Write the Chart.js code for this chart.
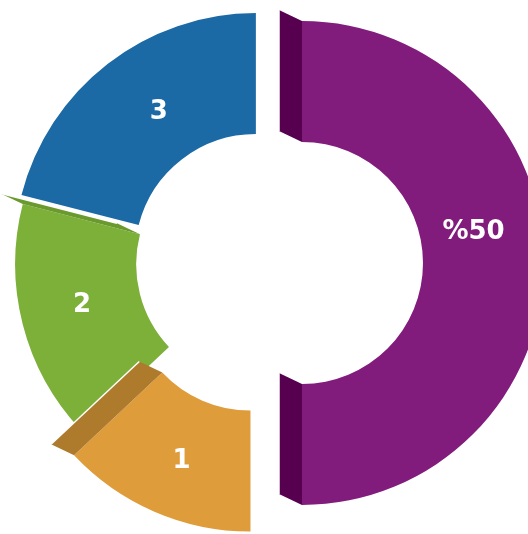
<!DOCTYPE html>
<html><head><meta charset="utf-8">
<script src="https://cdn.jsdelivr.net/npm/chart.js@4.4.0/dist/chart.umd.min.js"></script>
<style>html,body{margin:0;padding:0;background:#fff;overflow:hidden}#wrap{position:relative;width:528px;height:534px}</style>
</head><body><div id="wrap"><canvas id="c"></canvas></div>
<script>
// data
const labels = ['%50', '1', '2', '3'];
const values = [50, 13, 16, 21];

// styles
const colors = ['#821C7C', '#DF9C3A', '#7DB039', '#1B69A5'];
const sideColors = ['#56004F', '#AE7A2C', '#6A9A2E', '#12497A'];
const explode = [40, 29, 5, 10];
const labelShiftDeg = [-10, -1.5, 1.3, 3.5];
const labelRadiusFactor = [0.96, 1.02, 0.99, 0.95];
const depth = { x: -23, y: -11 };

const pieStyle = {
  id: 'pieStyle',
  afterDatasetsUpdate(chart) {
    const meta = chart.getDatasetMeta(0);
    meta.data.forEach((arc, i) => {
      const mid = (arc.startAngle + arc.endAngle) / 2;
      arc.x += Math.cos(mid) * explode[i];
      arc.y += Math.sin(mid) * explode[i];
    });
  },
  afterDatasetsDraw(chart) {
    const ctx = chart.ctx;
    const meta = chart.getDatasetMeta(0);
    meta.data.forEach((arc, i) => {
      [arc.startAngle, arc.endAngle].forEach((a, k) => {
        const ix = k === 0 ? -Math.sin(a) : Math.sin(a);
        const iy = k === 0 ? Math.cos(a) : -Math.cos(a);
        if (depth.x * ix + depth.y * iy >= 0) return;
        const c = Math.cos(a), s = Math.sin(a);
        const p1 = { x: arc.x + c * arc.innerRadius, y: arc.y + s * arc.innerRadius };
        const p2 = { x: arc.x + c * arc.outerRadius, y: arc.y + s * arc.outerRadius };
        ctx.save();
        ctx.beginPath();
        ctx.moveTo(p1.x, p1.y);
        ctx.lineTo(p2.x, p2.y);
        ctx.lineTo(p2.x + depth.x, p2.y + depth.y);
        ctx.lineTo(p1.x + depth.x, p1.y + depth.y);
        ctx.closePath();
        ctx.fillStyle = sideColors[i];
        ctx.fill();
        ctx.beginPath();
        ctx.moveTo(p2.x + depth.x, p2.y + depth.y);
        ctx.lineTo(p1.x + depth.x, p1.y + depth.y);
        ctx.strokeStyle = '#ffffff';
        ctx.lineWidth = 1.5;
        ctx.stroke();
        ctx.restore();
      });
    });
    meta.data.forEach((arc, i) => {
      const mid = (arc.startAngle + arc.endAngle) / 2 + labelShiftDeg[i] * Math.PI / 180;
      const r = (arc.innerRadius + arc.outerRadius) / 2 * labelRadiusFactor[i];
      ctx.save();
      ctx.fillStyle = '#ffffff';
      ctx.font = 'bold 26px "DejaVu Sans"';
      ctx.textAlign = 'center';
      ctx.textBaseline = 'middle';
      ctx.fillText(labels[i], arc.x + Math.cos(mid) * r, arc.y + Math.sin(mid) * r);
      ctx.restore();
    });
  }
};

new Chart(document.getElementById('c'), {
  type: 'doughnut',
  data: {
    labels: labels,
    datasets: [{
      data: values,
      backgroundColor: colors,
      borderWidth: 0,
      clip: false
    }]
  },
  options: {
    responsive: true,
    maintainAspectRatio: false,
    animation: false,
    events: [],
    radius: 242,
    cutout: '50%',
    layout: { padding: { left: 0, right: 4, top: 0, bottom: 8 } },
    plugins: { legend: { display: false }, tooltip: { enabled: false } }
  },
  plugins: [pieStyle]
});
</script>
</body></html>
